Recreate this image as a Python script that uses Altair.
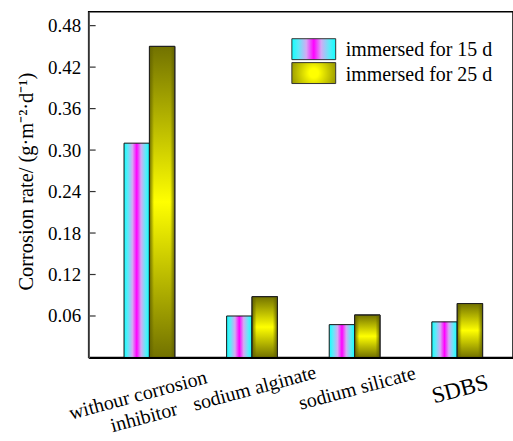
import altair as alt
import pandas as pd

categories = ["withour corrosion\ninhibitor", "sodium alginate", "sodium silicate", "SDBS"]
series = ["immersed for 15 d", "immersed for 25 d"]
rate_15d = [0.310, 0.060, 0.0475, 0.0515]
rate_25d = [0.450, 0.088, 0.0615, 0.078]
y_ticks = [0.06, 0.12, 0.18, 0.24, 0.30, 0.36, 0.42, 0.48]
y_max = 0.5

rows = []
for c, a, b in zip(categories, rate_15d, rate_25d):
    rows.append({"cat": c, "series": series[0], "value": a})
    rows.append({"cat": c, "series": series[1], "value": b})
df = pd.DataFrame(rows)
ticks_df = pd.DataFrame({"value": y_ticks})
legend_df = pd.DataFrame({"series": series})

FONT = "Liberation Serif"
W, H = 426, 347

g15 = alt.LinearGradient(
    gradient="linear", x1=0, y1=0, x2=1, y2=0,
    stops=[
        alt.GradientStop(color="#10ffff", offset=0),
        alt.GradientStop(color="#60eaf8", offset=0.15),
        alt.GradientStop(color="#d4aaf4", offset=0.33),
        alt.GradientStop(color="#ff00ff", offset=0.5),
        alt.GradientStop(color="#d4aaf4", offset=0.67),
        alt.GradientStop(color="#60eaf8", offset=0.85),
        alt.GradientStop(color="#10ffff", offset=1),
    ],
)
g25 = alt.LinearGradient(
    gradient="linear", x1=0, y1=0, x2=0, y2=1,
    stops=[
        alt.GradientStop(color="#727200", offset=0),
        alt.GradientStop(color="#ffff00", offset=0.5),
        alt.GradientStop(color="#727200", offset=1),
    ],
)
g25_edge = alt.LinearGradient(
    gradient="linear", x1=0, y1=0, x2=1, y2=0,
    stops=[
        alt.GradientStop(color="rgba(96,96,0,0.9)", offset=0),
        alt.GradientStop(color="rgba(96,96,0,0)", offset=0.18),
        alt.GradientStop(color="rgba(96,96,0,0)", offset=0.82),
        alt.GradientStop(color="rgba(96,96,0,0.9)", offset=1),
    ],
)
g25_legend = alt.RadialGradient(
    gradient="radial", x1=0.5, y1=0.5, r1=0, x2=0.5, y2=0.5, r2=0.7,
    stops=[
        alt.GradientStop(color="#ffff00", offset=0.15),
        alt.GradientStop(color="#727200", offset=1),
    ],
)

y_scale = alt.Scale(domain=[0, y_max], nice=False, zero=True)
x_scale = alt.Scale(domain=categories, paddingInner=0.505, paddingOuter=0.3205, align=0.538)
xo_scale = alt.Scale(domain=series, paddingInner=0, paddingOuter=0)

first_test = "indexof(datum.value, 'withour') == 0"
x_axis = alt.Axis(
    title=None, ticks=False, domainColor="#000", domainWidth=2, zindex=1,
    labelAngle=345, labelAlign="center", labelBaseline="top",
    labelPadding={"condition": {"test": first_test, "value": 28}, "value": 21},
    labelOffset={"condition": {"test": first_test, "value": -14}, "value": 0},
    labelFont=FONT, labelColor="#000", labelLineHeight=23,
    labelFontSize={"condition": {"test": "datum.value == 'SDBS'", "value": 23}, "value": 20},
    labelExpr="split(replace(datum.label, '\\n', '\\n\u00a0\u00a0\u00a0'), '\\n')",
)
y_axis = alt.Axis(
    values=y_ticks, format=".2f", tickSize=0, labelPadding=8,
    domainColor="#555", domainWidth=1.5, zindex=1, grid=False,
    labelFont=FONT, labelFontSize=19, labelColor="#000",
    title="Corrosion rate/ (g\u00b7m\u207b\u00b2\u00b7d\u207b\u00b9)",
    titleFont=FONT, titleFontSize=20.5, titleFontWeight="normal", titleColor="#000",
    titlePadding=11, titleY=170,
)

base = alt.Chart(df).encode(
    x=alt.X("cat:N", scale=x_scale, axis=x_axis, sort=categories),
    xOffset=alt.XOffset("series:N", scale=xo_scale, sort=series),
    y=alt.Y("value:Q", scale=y_scale, axis=y_axis),
)
bars15 = base.transform_filter(alt.datum.series == series[0]).mark_bar(
    fill=g15, stroke="#111", strokeWidth=1
)
bars25 = base.transform_filter(alt.datum.series == series[1]).mark_bar(
    fill=g25, stroke="#111", strokeWidth=1
)
bars25_edge = base.transform_filter(alt.datum.series == series[1]).mark_bar(
    fill=g25_edge, stroke="#222", strokeWidth=1
)

tick_marks = alt.Chart(ticks_df).mark_rule(color="#333", strokeWidth=1.2).encode(
    y=alt.Y("value:Q", scale=y_scale, axis=y_axis),
    x=alt.value(0),
    x2=alt.value(7),
)

leg1 = alt.Chart(legend_df).transform_filter(alt.datum.series == series[0]).mark_rect(
    fill=g15, stroke="#333", strokeWidth=1
).encode(x=alt.value(204), x2=alt.value(248), y=alt.value(27), y2=alt.value(48))
leg2 = alt.Chart(legend_df).transform_filter(alt.datum.series == series[1]).mark_rect(
    fill=g25_legend, stroke="#333", strokeWidth=1
).encode(x=alt.value(204), x2=alt.value(248), y=alt.value(51), y2=alt.value(72))
txt1 = alt.Chart(legend_df).transform_filter(alt.datum.series == series[0]).mark_text(
    font=FONT, fontSize=20, align="left", baseline="alphabetic", color="#000"
).encode(text="series:N", x=alt.value(258), y=alt.value(44))
txt2 = alt.Chart(legend_df).transform_filter(alt.datum.series == series[1]).mark_text(
    font=FONT, fontSize=20, align="left", baseline="alphabetic", color="#000"
).encode(text="series:N", x=alt.value(258), y=alt.value(69))

chart = alt.layer(
    bars15, bars25, bars25_edge, tick_marks, leg1, leg2, txt1, txt2
).properties(
    width=W, height=H,
    autosize=alt.AutoSizeParams(type="none"),
    padding={"left": 89, "top": 11, "right": 0, "bottom": 83},
    background="white",
).configure_view(stroke="#000", strokeWidth=1.5)

chart.save("out.html", embed_options={"renderer": "svg", "actions": False})
